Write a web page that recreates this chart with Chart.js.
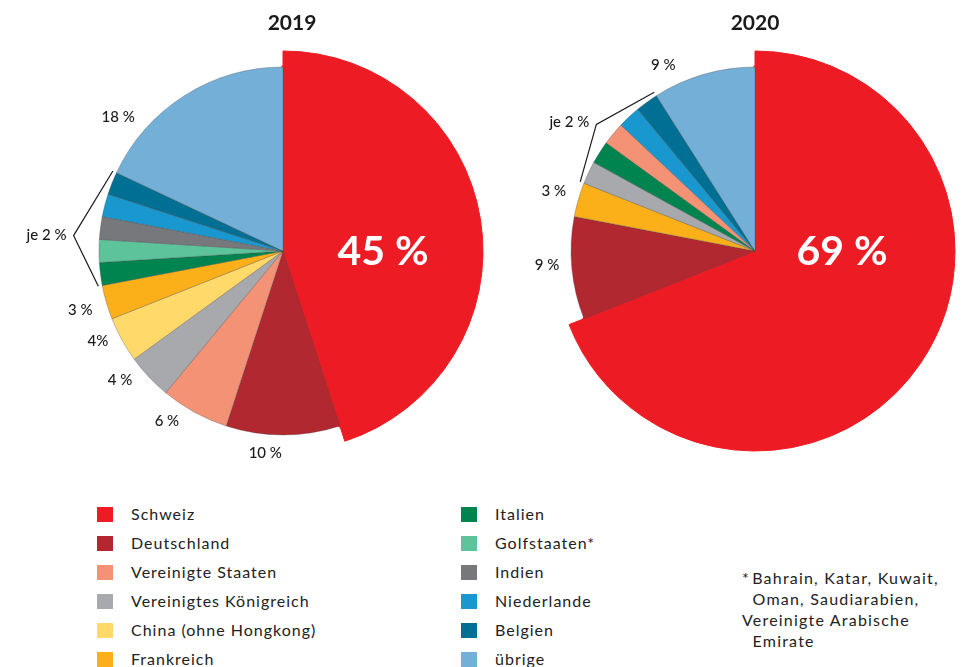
<!DOCTYPE html>
<html><head><meta charset="utf-8">
<script src="https://cdn.jsdelivr.net/npm/chart.js@4/dist/chart.umd.min.js"></script>
<style>
html,body{margin:0;padding:0;background:#fff;width:966px;height:667px;overflow:hidden;font-family:Lato,"Open Sans",sans-serif;color:#1a1a1a}
canvas{position:absolute;left:0;top:0}
.title{position:absolute;top:10px;font-weight:700;font-size:21px;transform:translateX(-50%);line-height:24px}
.leg{position:absolute;font-size:16px;letter-spacing:1px;line-height:18px;white-space:nowrap;color:#222}
.sw{position:absolute;width:16px;height:15px}
.note{position:absolute;left:742px;top:567px;font-size:16px;letter-spacing:1.2px;line-height:21px;white-space:nowrap;color:#222}
</style></head>
<body>
<canvas id="c2019" width="966" height="500"></canvas>
<canvas id="c2020" width="966" height="500"></canvas>
<div class="title" style="left:292px">2019</div>
<div class="title" style="left:755px">2020</div>
<div id="legend"></div>
<div class="note">*&#8202;Bahrain, Katar, Kuwait,<br>&nbsp;&nbsp;Oman, Saudiarabien,<br>Vereinigte Arabische<br>&nbsp;&nbsp;Emirate</div>
<script>
// ---- data ----
const categories = ['Schweiz','Deutschland','Vereinigte Staaten','Vereinigtes Königreich','China (ohne Hongkong)','Frankreich','Italien','Golfstaaten*','Indien','Niederlande','Belgien','übrige'];
const categoryColors = ['#ED1C24','#B22830','#F49276','#A7A9AC','#FFD96A','#FBB01A','#00844F','#5CC39B','#77787B','#1898CF','#006F94','#73AFD6'];

const order2019 = ['Schweiz','Deutschland','Vereinigte Staaten','Vereinigtes Königreich','China (ohne Hongkong)','Frankreich','Italien','Golfstaaten*','Indien','Niederlande','Belgien','übrige'];
const values2019 = [45,10,6,4,4,3,2,2,2,2,2,18];
const labelText2019 = ['45 %','10 %','6 %','4 %','4%','3 %','','','','','','18 %'];

const order2020 = ['Schweiz','Deutschland','Frankreich','Vereinigtes Königreich','Italien','Vereinigte Staaten','Niederlande','Belgien','übrige'];
const values2020 = [69,9,3,2,2,2,2,2,9];
const labelText2020 = ['69 %','9 %','3 %','','','','','','9 %'];

const groupText = 'je 2 %';

// ---- legend ----
const legend = document.getElementById('legend');
categories.forEach((c,i)=>{
  const col = Math.floor(i/6), row = i%6;
  const x = col ? 461 : 97, tx = col ? 495 : 131;
  const y = 507 + row*29;
  const sw = document.createElement('div');
  sw.className='sw'; sw.style.left=x+'px'; sw.style.top=y+'px'; sw.style.background=categoryColors[i];
  legend.appendChild(sw);
  const t = document.createElement('div');
  t.className='leg'; t.style.left=tx+'px'; t.style.top=(y-2)+'px'; t.textContent=c;
  legend.appendChild(t);
});

// ---- label plugin ----
const D = Math.PI/180;
const labelPlugin = {
  id:'pieLabels',
  afterDatasetsDraw(chart, args, o){
    const ctx = chart.ctx;
    const arcs = chart.getDatasetMeta(1).data;
    const cx = arcs[0].x, cy = arcs[0].y, R = arcs[0].outerRadius;
    const mid = a => (a.startAngle + a.endAngle)/2;
    ctx.save();
    ctx.textBaseline='middle';
    ctx.fillStyle='#fff';
    ctx.font='700 41px Lato, sans-serif';
    ctx.textAlign='center';
    ctx.fillText(o.texts[0], cx + o.innerDx, cy + 1);
    ctx.fillStyle='#1a1a1a';
    ctx.font='500 15px Lato, sans-serif';
    o.singles.forEach(s=>{
      const a = mid(arcs[s.i]) + s.shift*D;
      ctx.fillText(o.texts[s.i], cx + Math.cos(a)*s.dist, cy + Math.sin(a)*s.dist);
    });
    const g = o.group;
    const a1 = arcs[g.from].startAngle, a2 = arcs[g.to].endAngle;
    const am = (a1+a2)/2 + g.shift*D;
    const p1 = [cx+Math.cos(a1)*(R+4), cy+Math.sin(a1)*(R+4)];
    const pm = [cx+Math.cos(am)*(R+g.apex), cy+Math.sin(am)*(R+g.apex)];
    const p2 = [cx+Math.cos(a2)*(R+4), cy+Math.sin(a2)*(R+4)];
    ctx.strokeStyle='#1a1a1a'; ctx.lineWidth=1.2;
    ctx.beginPath(); ctx.moveTo(p1[0],p1[1]); ctx.lineTo(pm[0],pm[1]); ctx.lineTo(p2[0],p2[1]); ctx.stroke();
    ctx.textAlign='right';
    ctx.fillText(groupText, pm[0] - 7, pm[1] + g.dy);
    ctx.restore();
  }
};

function makeChart(id, order, values, texts, pad, cfg){
  const colors = order.map(n => categoryColors[categories.indexOf(n)]);
  const outerColors = colors.map((c,i)=> i===0 ? c : 'rgba(0,0,0,0)');
  const borders = colors.map((c,i)=> i===0 ? c : 'rgba(70,70,70,0.55)');
  const bw = colors.map((c,i)=> i===0 ? 4 : 0.6);
  return new Chart(document.getElementById(id), {
    type:'pie',
    data:{labels:order, datasets:[
      {data:values, backgroundColor:outerColors, borderColor:outerColors, borderWidth:colors.map((c,i)=>i===0?1:0), weight:16},
      {data:values, backgroundColor:colors, borderColor:borders, borderWidth:bw, weight:184}
    ]},
    options:{responsive:false, animation:false, events:[], radius:200,
      layout:{padding:pad},
      plugins:{legend:{display:false}, tooltip:{enabled:false},
        pieLabels:Object.assign({texts}, cfg)}},
    plugins:[labelPlugin]
  });
}

makeChart('c2019', order2019, values2019, labelText2019,
  {left:0, right:400, top:16, bottom:14},
  {innerDx:100,
   singles:[{i:1,dist:203,shift:5},{i:2,dist:206,shift:5.5},{i:3,dist:208,shift:4.8},{i:4,dist:206,shift:2.8},{i:5,dist:211,shift:0},{i:11,dist:212,shift:-18.6}],
   group:{from:6,to:10,apex:26,shift:-3,dy:0}});

makeChart('c2020', order2020, values2020, labelText2020,
  {left:544, right:0, top:16, bottom:14},
  {innerDx:87,
   singles:[{i:1,dist:208.5,shift:1.5},{i:2,dist:210,shift:0.4},{i:8,dist:207.5,shift:-10}],
   group:{from:3,to:7,apex:19,shift:-1,dy:-2}});
</script>
</body></html>
